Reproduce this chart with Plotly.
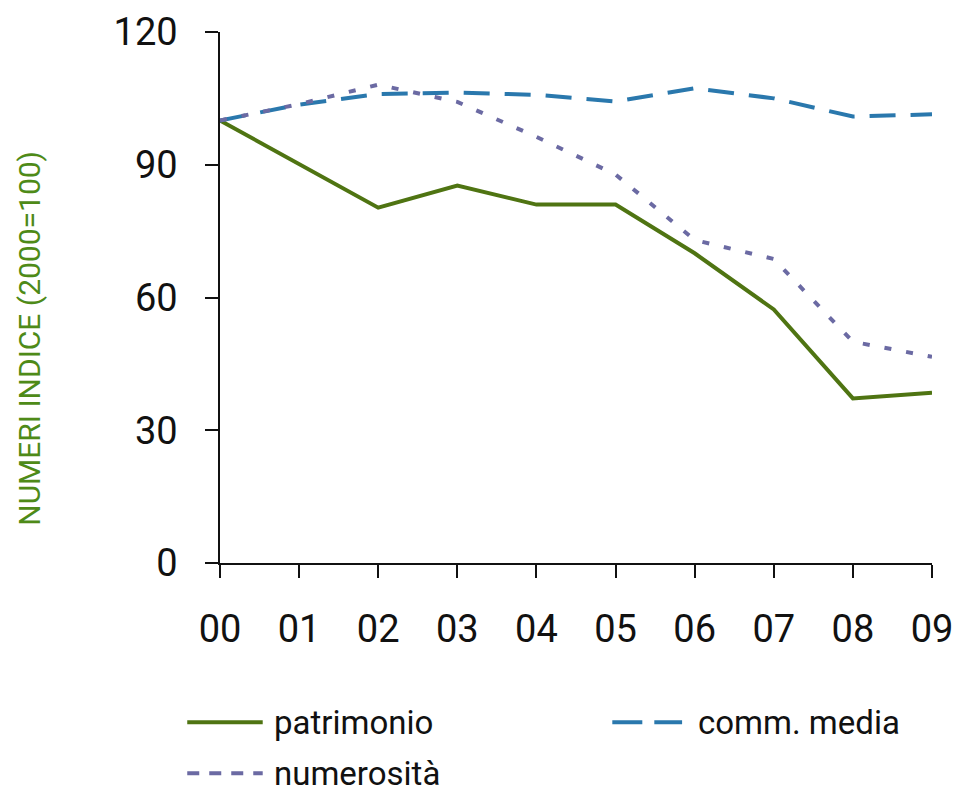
import plotly.graph_objects as go

# Index numbers, year 2000 = 100
years = ["00", "01", "02", "03", "04", "05", "06", "07", "08", "09"]
patrimonio = [100, 90.1, 80.3, 85.3, 81.0, 81.0, 70.0, 57.3, 37.2, 38.5]
comm_media = [100, 103.6, 106.0, 106.3, 105.8, 104.3, 107.3, 105.0, 100.9, 101.4]
numerosita = [100, 103.7, 108.1, 104.2, 96.3, 87.8, 73.0, 68.7, 50.0, 46.6]

y_ticks = [0, 30, 60, 90, 120]

FONT = "Roboto, DejaVu Sans Condensed, sans-serif"
INK = "#111111"
x_pos = list(range(len(years)))

series = [
    ("patrimonio", patrimonio, "#4f7412", "solid", "solid"),
    ("comm. media", comm_media, "#2a78ad", "26px,15px", "30px,12px"),
    ("numerosità", numerosita, "#6b6aa3", "7px,15px", "12px,10px"),
]

fig = go.Figure()
for name, vals, color, dash, _ in series:
    fig.add_trace(go.Scatter(
        x=x_pos, y=vals, name=name, mode="lines",
        line=dict(color=color, width=4, dash=dash)))

# Legend drawn below the plot: sample line + label per series (paper coords)
legend_slots = [(-0.046, 0.060, 0.074, -0.300),
                (0.551, 0.649, 0.670, -0.300),
                (-0.046, 0.060, 0.074, -0.396)]
shapes, annotations = [], []
for (name, _, color, _, leg_dash), (lx0, lx1, tx, ly) in zip(series, legend_slots):
    shapes.append(dict(type="line", xref="paper", yref="paper",
                       x0=lx0, x1=lx1, y0=ly, y1=ly,
                       line=dict(color=color, width=4, dash=leg_dash)))
    annotations.append(dict(text=name, xref="paper", yref="paper",
                            x=tx, y=ly, xanchor="left", yanchor="middle",
                            showarrow=False, borderpad=0,
                            font=dict(size=33, family=FONT, color=INK)))

annotations.append(dict(
    text="NUMERI INDICE (2000=100)", textangle=-90,
    xref="paper", yref="paper", x=-0.267, y=0.424,
    xanchor="center", yanchor="middle", showarrow=False,
    font=dict(size=30, family=FONT, color="#4e8a18"),
))

fig.update_layout(
    width=958, height=796,
    margin=dict(l=220, r=26, t=32, b=233, autoexpand=False),
    paper_bgcolor="white", plot_bgcolor="white",
    font=dict(family=FONT, color=INK),
    showlegend=False,
    xaxis=dict(
        range=[0, 9], tickmode="array", tickvals=x_pos, ticktext=years,
        showgrid=False, zeroline=False, automargin=False,
        showline=True, linecolor=INK, linewidth=2,
        ticks="outside", ticklen=13, tickwidth=1.5, tickcolor=INK,
        tickfont=dict(size=38, family=FONT, color=INK),
        ticklabelstandoff=18,
    ),
    yaxis=dict(
        range=[0, 120], tickmode="array", tickvals=y_ticks,
        showgrid=False, zeroline=False, automargin=False,
        showline=True, linecolor=INK, linewidth=1.5,
        ticks="outside", ticklen=13, tickwidth=2, tickcolor=INK,
        tickfont=dict(size=38, family=FONT, color=INK),
        ticklabelstandoff=20,
    ),
    shapes=shapes,
    annotations=annotations,
)

fig.write_html("out.html")
